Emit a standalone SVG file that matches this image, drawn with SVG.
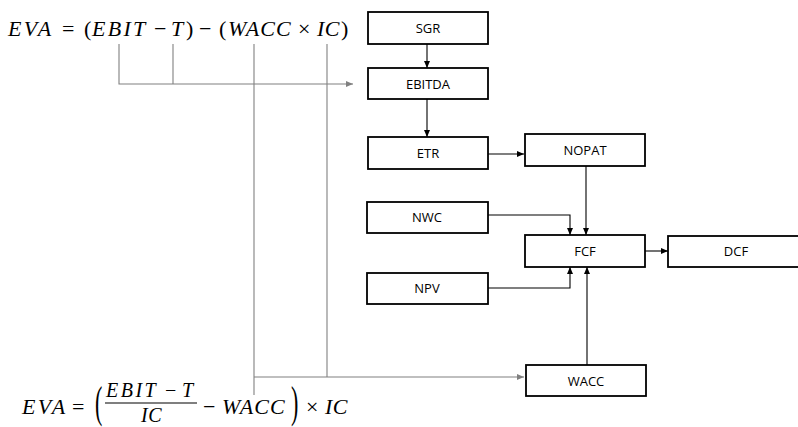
<svg xmlns="http://www.w3.org/2000/svg" width="798" height="427" viewBox="0 0 798 427">
<style>
  .box{fill:#fff;stroke:#000;stroke-width:1.8}
  .lbl{font-family:"Open Sans","Liberation Sans",sans-serif;font-size:13px;fill:#000;text-anchor:middle;dominant-baseline:central}
  .c{fill:none;stroke:#000;stroke-width:1.1}
  .g{fill:none;stroke:#808080;stroke-width:1.1}
  .m{font-family:"Liberation Serif","DejaVu Serif",serif;font-size:22px;fill:#000}
  .f{font-size:20px}
  .i{font-style:italic}
</style>
<defs>
  <marker id="ab" markerUnits="userSpaceOnUse" markerWidth="8" markerHeight="8" refX="7" refY="3" orient="auto">
    <path d="M0,0 L7,3 L0,6 z" fill="#000"/>
  </marker>
  <marker id="ag" markerUnits="userSpaceOnUse" markerWidth="8" markerHeight="8" refX="7" refY="3" orient="auto">
    <path d="M0,0 L7,3 L0,6 z" fill="#808080"/>
  </marker>
</defs>
<rect width="798" height="427" fill="#fff"/>

<g id="connectors">
  <path class="c" d="M427,44 V68" marker-end="url(#ab)"/>
  <path class="c" d="M427,99 V137" marker-end="url(#ab)"/>
  <path class="c" d="M488,154 H524" marker-end="url(#ab)"/>
  <path class="c" d="M586,166 V235" marker-end="url(#ab)"/>
  <path class="c" d="M488,215 H570 V235" marker-end="url(#ab)"/>
  <path class="c" d="M488,288 H570 V267" marker-end="url(#ab)"/>
  <path class="c" d="M645,251 H668" marker-end="url(#ab)"/>
  <path class="c" d="M587,365 V267" marker-end="url(#ab)"/>
  <path class="g" d="M119,44 V84 H353" marker-end="url(#ag)"/>
  <path class="g" d="M173,44 V84"/>
  <path class="g" d="M254,44 V395"/>
  <path class="g" d="M327,44 V377"/>
  <path class="g" d="M254,377 H524" marker-end="url(#ag)"/>
</g>

<g id="SGR"><rect class="box" x="368" y="12" width="120" height="32"/><text class="lbl" x="428" y="28">SGR</text></g>
<g id="EBITDA"><rect class="box" x="368" y="68" width="120" height="31"/><text class="lbl" x="428" y="84">EBITDA</text></g>
<g id="ETR"><rect class="box" x="368" y="137" width="120" height="32"/><text class="lbl" x="428" y="153">ETR</text></g>
<g id="NOPAT"><rect class="box" x="525" y="134" width="120" height="32"/><text class="lbl" x="585" y="150">NOPAT</text></g>
<g id="NWC"><rect class="box" x="367" y="202" width="121" height="31"/><text class="lbl" x="427" y="217">NWC</text></g>
<g id="FCF"><rect class="box" x="525" y="235" width="120" height="32"/><text class="lbl" x="585" y="251">FCF</text></g>
<g id="DCF"><rect class="box" x="668" y="236" width="140" height="31"/><text class="lbl" x="736" y="251">DCF</text></g>
<g id="NPV"><rect class="box" x="367" y="273" width="121" height="31"/><text class="lbl" x="427" y="288">NPV</text></g>
<g id="WACC"><rect class="box" x="526" y="365" width="120" height="31"/><text class="lbl" x="586" y="381">WACC</text></g>

<g id="formula-top">
  <text class="m" y="36"><tspan class="i" x="8" letter-spacing="2.3">EVA</tspan><tspan x="62">=</tspan><tspan x="84">(</tspan><tspan class="i" x="92" letter-spacing="2.3">EBIT</tspan><tspan x="154">−</tspan><tspan class="i" x="171">T</tspan><tspan x="186">)</tspan><tspan x="199">−</tspan><tspan x="219">(</tspan><tspan class="i" x="228" letter-spacing="1">WACC</tspan><tspan x="298">×</tspan><tspan class="i" x="317" letter-spacing="0.5">IC</tspan><tspan x="341">)</tspan></text>
</g>

<g id="formula-bottom">
  <text class="m" y="414"><tspan class="i" x="22" letter-spacing="2.3">EVA</tspan><tspan x="72">=</tspan></text>
  <text class="m" transform="translate(95,417) scale(1,2)">(</text>
  <text class="m f" y="397"><tspan class="i" x="106" letter-spacing="2.5">EBIT</tspan><tspan x="165">−</tspan><tspan class="i" x="182">T</tspan></text>
  <line x1="105" y1="403" x2="197" y2="403" stroke="#000" stroke-width="1.2"/>
  <text class="m f" y="422"><tspan class="i" x="141" letter-spacing="0.5">IC</tspan></text>
  <text class="m" y="414"><tspan x="203">−</tspan><tspan class="i" x="222" letter-spacing="1">WACC</tspan></text>
  <text class="m" transform="translate(291,417) scale(1,2)">)</text>
  <text class="m" y="414"><tspan x="306">×</tspan><tspan class="i" x="325" letter-spacing="0.5">IC</tspan></text>
</g>
</svg>
